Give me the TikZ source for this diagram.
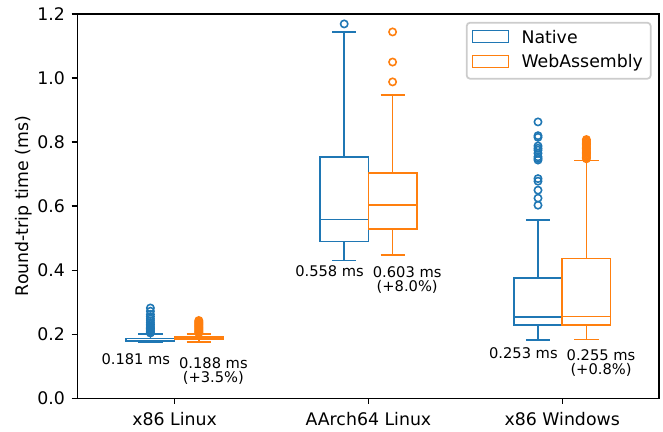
\documentclass[tikz,border=0pt]{standalone}
\usepackage{fontspec}
\setmainfont{DejaVu Sans}
\definecolor{tabblue}{RGB}{31,119,180}
\definecolor{taborange}{RGB}{255,127,14}
\definecolor{leggray}{RGB}{204,204,204}
\pgfmathdeclarefunction{vy}{1}{\pgfmathparse{398.3-320.25*#1}}
\tikzset{
  boxline/.style={line width=0.95pt},
  axisline/.style={line width=0.83pt, black},
  ticklab/.style={font=\fontsize{10.4}{12}\selectfont, inner sep=0pt},
  mlab/.style={font=\fontsize{8.8}{10}\selectfont, inner sep=0pt, anchor=base},
}
\newcommand\bxplot[7]{%
  \draw[#7, boxline] ({#1-24.2},{vy(#3)}) rectangle ({#1+24.2},{vy(#5)});
  \draw[#7, boxline] ({#1-24.2},{vy(#4)}) -- ({#1+24.2},{vy(#4)});
  \draw[#7, boxline] (#1,{vy(#3)}) -- (#1,{vy(#2)});
  \draw[#7, boxline] (#1,{vy(#5)}) -- (#1,{vy(#6)});
  \draw[#7, boxline] ({#1-12.1},{vy(#2)}) -- ({#1+12.1},{vy(#2)});
  \draw[#7, boxline] ({#1-12.1},{vy(#6)}) -- ({#1+12.1},{vy(#6)});
}
\newcommand\fliers[3]{%
  \foreach \vv in {#3} {\draw[#2, boxline] (#1,{vy(\vv)}) circle[radius=2.2pt];}
}
\begin{document}
\begin{tikzpicture}[x=0.6pt, y=-0.6pt]
\useasboundingbox (0,0) rectangle (663,431);
% boxes: x86 Linux
\bxplot{150.4}{0.174}{0.1795}{0.181}{0.1867}{0.200}{tabblue}
\fliers{150.4}{tabblue}{0.282,0.272,0.262,0.255,0.248,0.242,0.236,0.231,0.226,0.222,0.218,0.214,0.210,0.207,0.204}
\bxplot{198.8}{0.175}{0.183}{0.188}{0.191}{0.201}{taborange}
\fliers{198.8}{taborange}{0.243,0.240,0.237,0.234,0.231,0.228,0.225,0.222,0.219,0.216,0.213,0.210,0.207,0.204}
% AArch64 Linux
\bxplot{344.2}{0.430}{0.490}{0.558}{0.754}{1.143}{tabblue}
\fliers{344.2}{tabblue}{1.169}
\bxplot{392.6}{0.447}{0.528}{0.604}{0.703}{0.948}{taborange}
\fliers{392.6}{taborange}{1.144,1.050,0.988}
% x86 Windows
\bxplot{538.0}{0.182}{0.229}{0.253}{0.376}{0.557}{tabblue}
\fliers{538.0}{tabblue}{0.863,0.820,0.815,0.788,0.781,0.775,0.765,0.754,0.749,0.744,0.686,0.678,0.650,0.625,0.603}
\bxplot{586.4}{0.184}{0.229}{0.255}{0.436}{0.742}{taborange}
\fliers{586.4}{taborange}{0.808,0.804,0.800,0.796,0.792,0.788,0.784,0.780,0.776,0.772,0.768,0.764,0.760,0.756,0.752,0.748}
% median labels
\node[mlab] (l1a) at (135.8,364) {0.181 ms};
\node[mlab] (l1b) at (213.4,368.3) {0.188 ms};
\node[mlab] (l1c) at (213.4,382.8) {(+3.5\%)};
\node[mlab] (l2a) at (329.6,276.7) {0.558 ms};
\node[mlab] (l2b) at (407.2,277.3) {0.603 ms};
\node[mlab] (l2c) at (407.2,291.6) {(+8.0\%)};
\node[mlab] (l3a) at (523.4,358.3) {0.253 ms};
\node[mlab] (l3b) at (601.0,360.7) {0.255 ms};
\node[mlab] (l3c) at (601.0,374.6) {(+0.8\%)};
% axes frame
\draw[axisline] (77.7,14) rectangle (659,398.3);
\foreach \v/\t [count=\i] in {0/0.0,0.2/0.2,0.4/0.4,0.6/0.6,0.8/0.8,1.0/1.0,1.2/1.2} {
  \draw[axisline] (71.7,{vy(\v)}) -- (77.7,{vy(\v)});
  \node[ticklab, anchor=east] (yt\i) at (65.3,{vy(\v)}) {\t};
}
\foreach \x/\t [count=\i] in {174.6/x86 Linux,368.4/AArch64 Linux,562.2/x86 Windows} {
  \draw[axisline] (\x,398.3) -- (\x,404.3);
  \node[ticklab, anchor=base] (xt\i) at (\x,425) {\t};
}
\node[ticklab, rotate=90, anchor=base] (ylab) at (28.3,206) {Round-trip time (ms)};
% legend
\draw[leggray, line width=1.04pt, fill=white, rounded corners=2pt] (466.7,22.7) rectangle (650.7,78.7);
\draw[tabblue, boxline, fill=white] (472.7,30.7) rectangle (508.3,42.7);
\draw[taborange, boxline, fill=white] (472.7,55.7) rectangle (508.3,67.7);
\node[ticklab, anchor=base west] (legn) at (521.2,43.3) {Native};
\node[ticklab, anchor=base west] (legw) at (521.2,67.6) {WebAssembly};
\end{tikzpicture}
\end{document}
